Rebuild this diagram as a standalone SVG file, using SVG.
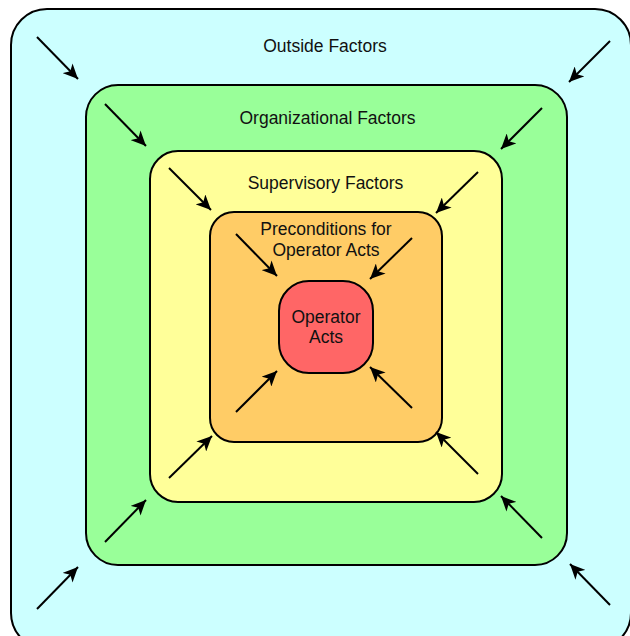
<svg xmlns="http://www.w3.org/2000/svg" width="630" height="636" viewBox="0 0 630 636">
<style>
.box{stroke:#000;stroke-width:2}
.lbl{font-family:"Liberation Sans",Arial,sans-serif;font-size:17.5px;fill:#111;text-anchor:middle}
.arr{stroke:#000;stroke-width:2;fill:none;marker-end:url(#ah)}
</style>
<defs>
<marker id="ah" markerUnits="userSpaceOnUse" markerWidth="18" markerHeight="14" refX="15" refY="7" orient="auto">
<path d="M0,0 L15,7 L0,14 L4,7 Z" fill="#000"/>
</marker>
</defs>
<rect width="630" height="636" fill="#fff"/>
<g id="outside">
<rect class="box" x="11" y="9" width="620" height="640" rx="36" fill="#ccffff"/>
<text class="lbl" x="325" y="52">Outside Factors</text>
</g>
<g id="organizational">
<rect class="box" x="86" y="85" width="481" height="480" rx="32" fill="#99ff99"/>
<text class="lbl" x="327.5" y="124">Organizational Factors</text>
</g>
<g id="supervisory">
<rect class="box" x="150" y="151" width="352" height="351" rx="28" fill="#ffff99"/>
<text class="lbl" x="325.5" y="189">Supervisory Factors</text>
</g>
<g id="preconditions">
<rect class="box" x="210" y="212" width="232" height="230" rx="24" fill="#ffcc66"/>
<text class="lbl" x="326" y="235">Preconditions for</text>
<text class="lbl" x="326" y="256">Operator Acts</text>
</g>
<g id="operator">
<rect class="box" x="279" y="281" width="94" height="92" rx="30" fill="#ff6666"/>
<text class="lbl" x="326" y="323">Operator</text>
<text class="lbl" x="326" y="343">Acts</text>
</g>
<g id="connectors">
<line class="arr" x1="37" y1="37" x2="78" y2="79"/>
<line class="arr" x1="610" y1="41" x2="569" y2="82"/>
<line class="arr" x1="37" y1="609" x2="78" y2="567"/>
<line class="arr" x1="610" y1="605" x2="570" y2="564"/>
<line class="arr" x1="105" y1="104" x2="146" y2="146"/>
<line class="arr" x1="542" y1="108" x2="501" y2="149"/>
<line class="arr" x1="105" y1="542" x2="146" y2="500"/>
<line class="arr" x1="542" y1="538" x2="501" y2="496"/>
<line class="arr" x1="169" y1="168" x2="211" y2="210"/>
<line class="arr" x1="478" y1="172" x2="436" y2="213"/>
<line class="arr" x1="169" y1="478" x2="212" y2="436"/>
<line class="arr" x1="478" y1="474" x2="436" y2="432"/>
<line class="arr" x1="236" y1="234" x2="277" y2="276"/>
<line class="arr" x1="412" y1="238" x2="370" y2="279"/>
<line class="arr" x1="236" y1="412" x2="277" y2="371"/>
<line class="arr" x1="412" y1="408" x2="370" y2="367"/>
</g>
</svg>
